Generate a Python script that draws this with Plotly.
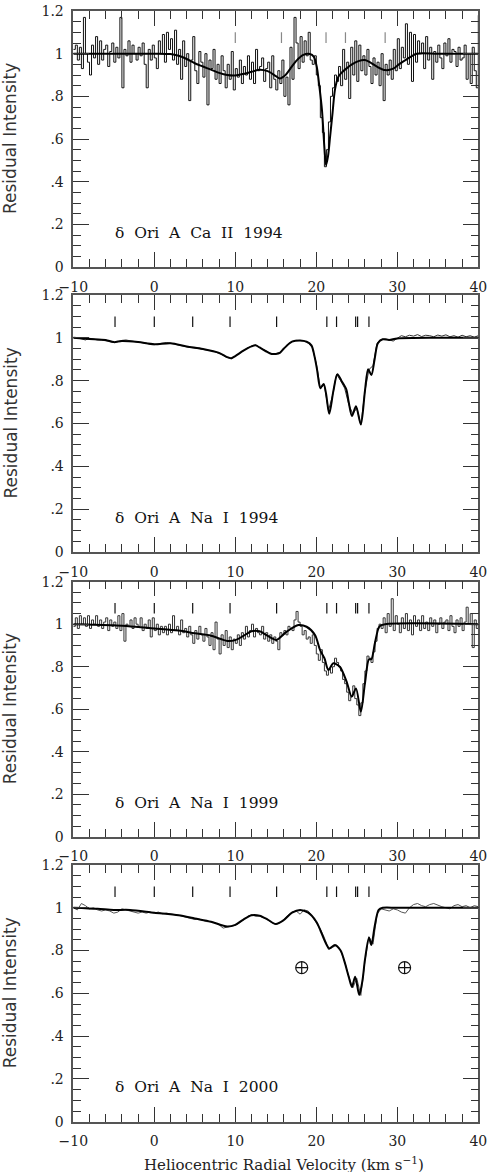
import numpy as np
import plotly.graph_objects as go

# ---------------- data ----------------
# observed spectra sampled on a regular velocity grid (km/s)
ca94_obs = [
    1.02, 1.04, 0.97, 1.03,  0.93, 1.17, 1.00, 0.96,  0.90, 1.04, 0.98, 1.08,
    0.95, 1.06, 0.97, 1.02,  1.04, 0.94, 1.01, 1.05,  0.96, 1.03, 0.98, 1.17,
    0.84, 1.02, 0.99, 1.06,  0.96, 1.04, 1.00, 0.97,  1.03, 0.99, 1.05, 0.95,
    0.84, 1.02, 0.97, 1.04,  0.98, 0.93, 1.06, 1.00,  1.09, 0.96, 1.10, 1.02,
    1.07, 0.97, 1.11, 0.95,  1.02, 0.88, 1.06, 0.94,  1.00, 0.78, 0.97, 1.08,
    0.92, 0.86, 1.01, 0.96,  0.89, 1.00, 0.76, 0.97,  0.93, 1.02, 0.88, 0.95,
    0.86, 0.99, 0.92, 0.84,  0.95, 0.88, 1.01, 0.83,  0.93, 0.89, 0.97, 0.86,
    0.94, 0.90, 0.99, 0.88,  0.96, 0.86, 1.02, 0.92,  0.94, 0.98, 0.87, 0.93,
    0.96, 0.84, 0.99, 0.88,  0.83, 0.92, 0.86, 0.97,  0.80, 0.89, 0.76, 1.03,
    0.88, 1.17, 1.05, 0.93,  1.08, 0.96, 1.06, 0.99,  1.10, 0.97, 0.95, 0.99,
    0.90, 0.85, 0.70, 0.63,  0.47, 0.55, 0.68, 0.80,  0.84, 0.90, 0.87, 0.94,
    0.85, 1.02, 0.88, 0.96,  0.79, 1.03, 0.90, 1.06,  0.87, 1.04, 0.92, 0.99,
    0.90, 1.02, 0.94, 0.86,  0.98, 0.90, 0.96, 0.85,  1.00, 0.78, 0.95, 0.90,
    0.97, 0.88, 1.02, 0.92,  1.07, 0.93, 1.03, 0.98,  1.14, 0.95, 1.10, 0.87,
    1.09, 0.96, 1.06, 1.00,  1.05, 0.93, 1.08, 0.97,  1.03, 0.88, 1.01, 0.96,
    1.04, 0.98, 0.93, 1.05,  0.99, 1.07, 0.96, 1.02,  1.01, 0.94, 1.03, 0.97,
    0.98, 1.04, 0.88, 1.00,  0.86, 1.03, 0.92, 0.84,  1.18,
]

na99_obs = [
    0.99, 1.03, 0.98, 1.04,  1.00, 1.03, 0.99, 1.04,  0.98, 1.02, 1.00, 1.04,
    0.99, 1.02, 0.98, 1.01,  1.03, 0.97, 1.02, 0.99,  1.01, 0.98, 1.04, 0.97,
    1.05, 0.92, 1.00, 0.99,  1.02, 0.98, 1.03, 1.00,  0.99, 1.03, 0.97, 1.00,
    0.98, 1.02, 0.94, 1.03,  0.97, 1.00, 0.95, 0.99,  0.96, 0.99, 0.95, 1.00,
    0.96, 1.04, 0.97, 0.99,  0.95, 1.02, 0.96, 0.98,  0.94, 0.99, 0.95, 0.91,
    0.97, 0.93, 0.99, 0.95,  0.92, 0.98, 0.94, 0.90,  0.96, 0.88, 1.01, 0.93,
    0.86, 0.95, 0.90, 0.97,  0.89, 0.94, 0.88, 0.93,  0.91, 0.95, 0.90, 0.96,
    0.93, 0.99, 0.94, 0.97,  1.00, 0.94, 0.98, 0.96,  0.95, 0.99, 0.93, 0.96,
    0.92, 0.95, 0.91, 0.94,  0.92, 0.88, 0.96, 0.95,  0.97, 0.95, 0.99, 0.98,
    0.97, 1.02, 1.06, 1.01,  0.99, 0.95, 0.97, 0.93,  0.94, 0.91, 0.95, 0.90,
    0.86, 0.83, 0.88, 0.82,  0.78, 0.76, 0.79, 0.77,  0.80, 0.84, 0.82, 0.80,
    0.78, 0.74, 0.72, 0.68,  0.64, 0.66, 0.71, 0.65,  0.62, 0.57, 0.63, 0.72,
    0.78, 0.85, 0.84, 0.82,  0.87, 0.92, 0.98, 1.00,  0.98, 1.03, 0.96, 1.05,
    0.99, 1.12, 0.97, 1.04,  1.00, 0.96, 1.03, 0.98,  1.05, 0.97, 1.02, 0.95,
    1.04, 0.99, 1.02, 0.97,  1.04, 0.98, 1.01, 0.97,  1.03, 0.99, 1.02, 0.96,
    1.00, 1.03, 0.98, 1.01,  1.02, 0.97, 1.04, 0.99,  0.96, 1.02, 0.99, 1.03,
    0.97, 1.01, 1.08, 1.00,  1.05, 0.89, 1.02, 0.98,  1.00,
]

na94_obs = [
    1.000, 1.000, 0.995, 0.990, 0.998, 0.993, 0.990, 0.990, 0.985, 0.982,
    0.978, 0.982, 0.988, 0.990, 0.985, 0.983, 0.980, 0.978, 0.975, 0.970,
    0.968, 0.972, 0.975, 0.978, 0.975, 0.970, 0.965, 0.960, 0.958, 0.955,
    0.952, 0.950, 0.948, 0.945, 0.940, 0.935, 0.928, 0.918, 0.908, 0.902,
    0.915, 0.928, 0.940, 0.952, 0.962, 0.966, 0.955, 0.945, 0.932, 0.924,
    0.926, 0.932, 0.952, 0.970, 0.983, 0.988, 0.987, 0.985, 0.975, 0.955,
    0.880, 0.765, 0.780, 0.660, 0.730, 0.830, 0.800, 0.765, 0.690, 0.645,
    0.672, 0.595, 0.750, 0.852, 0.870, 0.975, 0.992, 0.995, 0.990, 0.985,
    0.998, 1.010, 1.005, 1.012, 1.008, 1.015, 1.006, 1.012, 1.010, 1.005,
    1.013, 1.008, 1.014, 1.005, 1.010, 1.003, 1.012, 1.005, 1.010, 1.003,
    1.010,
]

na00_obs = [
    1.000, 0.990, 1.020, 1.010, 0.995, 1.000, 0.990, 0.985, 0.990, 0.985,
    0.975, 0.980, 0.995, 0.990, 0.985, 0.980, 0.975, 0.980, 0.975, 0.980,
    0.975, 0.980, 0.972, 0.975, 0.970, 0.968, 0.965, 0.960, 0.955, 0.952,
    0.945, 0.948, 0.940, 0.935, 0.935, 0.930, 0.920, 0.905, 0.910, 0.915,
    0.918, 0.930, 0.945, 0.958, 0.968, 0.960, 0.962, 0.955, 0.945, 0.930,
    0.922, 0.930, 0.945, 0.965, 0.980, 0.985, 0.970, 0.990, 0.985, 0.960,
    0.930, 0.900, 0.860, 0.805, 0.815, 0.825, 0.800, 0.748, 0.680, 0.625,
    0.670, 0.590, 0.750, 0.865, 0.830, 0.970, 0.995, 0.990, 0.985, 0.995,
    0.990, 0.980, 0.975, 1.000, 1.015, 1.020, 1.010, 1.005, 1.015, 1.020,
    1.012, 1.005, 1.000, 0.995, 1.010, 1.015, 1.005, 1.010, 1.000, 1.010,
    1.005,
]

# profile fits (velocity, intensity)
ca94_fit_v = [-10, 0, 2, 3, 4, 5, 6, 7, 8, 9, 10, 11, 12, 13, 14, 15, 15.5, 16.2, 16.8,
              17.5, 18.4, 19.2, 19.7, 20.05, 20.4, 20.7, 21.0, 21.2, 21.45, 21.7, 22.0,
              22.3, 22.7, 23.1, 23.7, 24.4, 25.2, 26.0, 26.7, 27.45, 28.5, 29.5, 30.2,
              31, 32.4, 35, 40]
ca94_fit_i = [1.0, 1.0, 0.998, 0.99, 0.975, 0.955, 0.94, 0.925, 0.91, 0.90, 0.898, 0.905,
              0.915, 0.925, 0.918, 0.895, 0.884, 0.90, 0.93, 0.965, 0.994, 0.998, 0.985,
              0.94, 0.84, 0.736, 0.56, 0.478, 0.52, 0.61, 0.72, 0.83, 0.89, 0.91, 0.93,
              0.95, 0.965, 0.97, 0.958, 0.94, 0.923, 0.93, 0.95, 0.97, 1.0, 1.0, 1.0]

na94_fit_v = [-10, -8, -6, -5, -4, -2, 0, 2, 4, 6, 8, 9, 9.5, 10, 11, 12, 12.5, 13, 14,
              14.5, 15, 15.5, 16, 17, 18, 18.8, 19.4, 19.8, 20.1, 20.5, 20.9, 21.2, 21.6,
              22.1, 22.6, 23.1, 23.7, 24.0, 24.4, 24.9, 25.5, 26.0, 26.4, 26.8, 27.2,
              27.6, 28.2, 29, 30, 35, 40]
na94_fit_i = [1.00, 0.995, 0.99, 0.98, 0.985, 0.98, 0.97, 0.975, 0.96, 0.948, 0.93, 0.91,
              0.905, 0.915, 0.94, 0.96, 0.965, 0.955, 0.933, 0.925, 0.925, 0.93, 0.95,
              0.982, 0.988, 0.982, 0.965, 0.91, 0.85, 0.765, 0.785, 0.74, 0.645, 0.75,
              0.83, 0.80, 0.76, 0.70, 0.635, 0.68, 0.595, 0.75, 0.853, 0.826, 0.90,
              0.975, 0.993, 0.99, 0.997, 1.0, 1.0]

na99_fit_v = [-10, -5, 0, 3, 5, 7, 9, 10, 11, 12, 13, 14, 14.5, 15.1, 16.35, 17.8, 18.8,
              19.84, 20.46, 21.0, 21.5, 22.1, 22.9, 23.75, 24.37, 24.9, 25.5, 26.0, 26.5,
              26.8, 27.25, 27.8, 28.5, 40]
na99_fit_i = [1.0, 0.995, 0.98, 0.97, 0.957, 0.946, 0.921, 0.925, 0.945, 0.967, 0.967,
              0.945, 0.934, 0.926, 0.965, 0.996, 0.988, 0.949, 0.879, 0.84, 0.784, 0.816,
              0.80, 0.729, 0.659, 0.698, 0.588, 0.72, 0.835, 0.835, 0.914, 0.99, 1.0, 1.0]

na00_fit_v = [-10, -7, -5, -3, 0, 3, 5, 7, 9, 10, 11, 12, 13, 14, 15, 16, 17, 18, 19, 20,
              20.5, 21, 21.6, 22.3, 23, 23.5, 24, 24.4, 24.8, 25.3, 25.7, 26.0, 26.5,
              26.8, 27.2, 27.7, 28.2, 30, 40]
na00_fit_i = [1.0, 0.995, 0.99, 0.99, 0.977, 0.965, 0.95, 0.935, 0.912, 0.92, 0.945,
              0.965, 0.963, 0.945, 0.924, 0.943, 0.977, 0.99, 0.977, 0.935, 0.895, 0.849,
              0.81, 0.826, 0.80, 0.746, 0.678, 0.63, 0.678, 0.592, 0.66, 0.755, 0.86,
              0.826, 0.912, 0.99, 1.0, 1.0, 1.0]

# component velocities (tick marks above the spectra)
ca_components = [10.0, 15.7, 21.2, 23.6, 28.5]
na_components = [-4.85, 0.0, 4.74, 9.35, 15.1, 21.3, 22.5, 24.86, 25.1, 26.5]

# telluric markers in Na I 2000 panel
telluric_v = [18.2, 30.9]
telluric_i = [0.72, 0.72]

panel_labels = ["δ  Ori  A  Ca  II  1994", "δ  Ori  A  Na  I  1994",
                "δ  Ori  A  Na  I  1999", "δ  Ori  A  Na  I  2000"]
y_tick_vals = [0, 0.2, 0.4, 0.6, 0.8, 1.0, 1.2]
y_tick_text = ["0", ".2", ".4", ".6", ".8", "1", "1.2"]

# ---------------- figure ----------------
W, H = 488, 1172
vel_fine = np.round(np.arange(-10, 40.001, 0.25), 3)
vel_half = np.round(np.arange(-10, 40.001, 0.5), 3)
assert len(ca94_obs) == len(vel_fine) and len(na99_obs) == len(vel_fine)
assert len(na94_obs) == len(vel_half) and len(na00_obs) == len(vel_half)

x_dom = [73.3 / W, 478.3 / W]
panels_px = [(11, 267), (295, 552), (581.7, 836.7), (865, 1121.7)]

fig = go.Figure()

obs_sets = [
    (vel_fine, ca94_obs, "#111", 1.0, "hv"),
    (vel_half, na94_obs, "#333", 1.0, "linear"),
    (vel_fine, na99_obs, "#333", 1.0, "hv"),
    (vel_half, na00_obs, "#555", 1.0, "linear"),
]
fit_sets = [(ca94_fit_v, ca94_fit_i), (na94_fit_v, na94_fit_i),
            (na99_fit_v, na99_fit_i), (na00_fit_v, na00_fit_i)]
comp_sets = [(ca_components, "#888"), (na_components, "#111"),
             (na_components, "#111"), (na_components, "#111")]

serif = "DejaVu Serif"

for i in range(4):
    sfx = "" if i == 0 else str(i + 1)
    xa, ya = "x" + sfx, "y" + sfx
    v, obs, col, lw, shp = obs_sets[i]
    fig.add_trace(go.Scatter(x=v, y=obs, mode="lines", line=dict(color=col, width=lw, shape=shp),
                             xaxis=xa, yaxis=ya, showlegend=False, hoverinfo="skip"))
    fv, fi = fit_sets[i]
    fig.add_trace(go.Scatter(x=fv, y=fi, mode="lines",
                             line=dict(color="#000", width=2, shape="spline", smoothing=0.8),
                             xaxis=xa, yaxis=ya, showlegend=False, hoverinfo="skip"))
    comps, ccol = comp_sets[i]
    cx, cy = [], []
    for c in comps:
        cx += [c, c, None]
        cy += [1.05, 1.10, None]
    fig.add_trace(go.Scatter(x=cx, y=cy, mode="lines", line=dict(color=ccol, width=1.2),
                             xaxis=xa, yaxis=ya, showlegend=False, hoverinfo="skip"))

    top, bot = panels_px[i]
    ydom = [1 - bot / H, 1 - top / H]
    common_tick = dict(ticks="inside", tickcolor="#333", tickwidth=1.3,
                       showline=True, linecolor="#555", linewidth=1.5, mirror="ticks",
                       showgrid=False, zeroline=False, automargin=False,
                       tickfont=dict(family=serif, size=14, color="#222"))
    fig.update_layout(**{
        "xaxis" + sfx: dict(domain=x_dom, range=[-10, 40], anchor=ya, tickmode="linear",
                            tick0=-10, dtick=10, ticklen=15,
                            minor=dict(dtick=2, tick0=0, ticks="inside", ticklen=8,
                                       tickwidth=1.2, tickcolor="#333"),
                            ticklabelstandoff=6, **common_tick),
        "yaxis" + sfx: dict(domain=ydom, range=[0, 1.2], anchor=xa, tickmode="array",
                            tickvals=y_tick_vals, ticktext=y_tick_text, ticklen=16,
                            minor=dict(tickmode="array",
                                       tickvals=list(np.round(np.arange(0, 1.2001, 0.05), 3)),
                                       ticks="inside", ticklen=8, tickwidth=1.2,
                                       tickcolor="#333"),
                            ticklabelstandoff=5, **common_tick),
    })
    fig.add_annotation(x=-5.1, y=0.16, xref=xa, yref=ya, text=panel_labels[i],
                       showarrow=False, xanchor="left", yanchor="middle",
                       font=dict(family=serif, size=15.5, color="#111"))
    fig.add_annotation(x=10 / W, y=(ydom[0] + ydom[1]) / 2, xref="paper", yref="paper",
                       text="Residual Intensity", textangle=-90, showarrow=False,
                       xanchor="center", yanchor="middle",
                       font=dict(family="DejaVu Sans", size=17, color="#333"))

fig.add_trace(go.Scatter(x=telluric_v, y=telluric_i, mode="markers",
                         marker=dict(symbol="circle-cross-open", size=12, color="#111",
                                     line=dict(width=1.2)),
                         xaxis="x4", yaxis="y4", showlegend=False, hoverinfo="skip"))

fig.add_annotation(x=283.5 / W, y=1 - 1164 / H, xref="paper", yref="paper",
                   text="Heliocentric Radial Velocity (km s<sup>−1</sup>)", showarrow=False,
                   xanchor="center", yanchor="middle",
                   font=dict(family=serif, size=15, color="#222"))

fig.update_layout(width=W, height=H, margin=dict(l=0, r=0, t=0, b=0),
                  paper_bgcolor="white", plot_bgcolor="white")

fig.write_html("out.html")
